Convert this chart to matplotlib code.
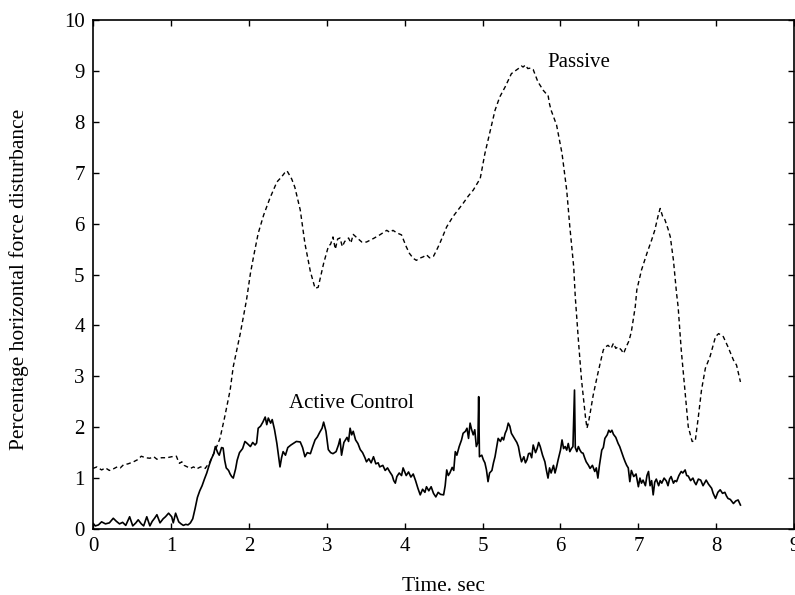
import matplotlib.pyplot as plt

# Active control trace (solid)
active_t = [0.00, 0.03, 0.07, 0.11, 0.16, 0.21, 0.26, 0.30, 0.34, 0.38, 0.42, 0.47, 0.51, 0.55, 0.58,
            0.62, 0.65, 0.69, 0.73, 0.76, 0.79, 0.82, 0.86, 0.90, 0.93, 0.97, 1.01, 1.03, 1.06, 1.10,
            1.13, 1.16, 1.19, 1.22, 1.25, 1.28, 1.31, 1.34, 1.37, 1.40, 1.43, 1.46, 1.49, 1.52, 1.55,
            1.57, 1.60, 1.62, 1.65, 1.67, 1.69, 1.71, 1.74, 1.76, 1.78, 1.80, 1.83, 1.85, 1.88, 1.92,
            1.95, 1.98, 2.02, 2.05, 2.08, 2.10, 2.12, 2.15, 2.18, 2.21, 2.23, 2.25, 2.28, 2.30, 2.33,
            2.36, 2.38, 2.40, 2.42, 2.44, 2.47, 2.50, 2.54, 2.57, 2.61, 2.66, 2.69, 2.72, 2.75, 2.79,
            2.82, 2.85, 2.88, 2.91, 2.94, 2.96, 2.99, 3.02, 3.05, 3.08, 3.12, 3.15, 3.17, 3.19, 3.22,
            3.26, 3.28, 3.30, 3.32, 3.34, 3.37, 3.40, 3.43, 3.46, 3.49, 3.51, 3.54, 3.57, 3.60, 3.63,
            3.66, 3.68, 3.72, 3.75, 3.78, 3.81, 3.84, 3.86, 3.88, 3.90, 3.93, 3.96, 3.98, 4.02, 4.05,
            4.08, 4.11, 4.14, 4.17, 4.20, 4.23, 4.26, 4.28, 4.31, 4.34, 4.37, 4.40, 4.43, 4.46, 4.50,
            4.52, 4.54, 4.56, 4.58, 4.61, 4.63, 4.65, 4.67, 4.70, 4.73, 4.75, 4.78, 4.80, 4.82, 4.84,
            4.86, 4.88, 4.90, 4.92, 4.94, 4.95, 4.96, 4.99, 5.01, 5.03, 5.05, 5.07, 5.09, 5.12, 5.14,
            5.16, 5.18, 5.20, 5.23, 5.25, 5.27, 5.29, 5.31, 5.33, 5.35, 5.37, 5.40, 5.42, 5.44, 5.46,
            5.48, 5.50, 5.53, 5.55, 5.57, 5.59, 5.61, 5.63, 5.65, 5.68, 5.70, 5.72, 5.74, 5.77, 5.80,
            5.82, 5.84, 5.86, 5.88, 5.91, 5.93, 5.95, 5.97, 6.00, 6.02, 6.04, 6.06, 6.08, 6.10, 6.12,
            6.14, 6.16, 6.18, 6.19, 6.21, 6.23, 6.25, 6.27, 6.29, 6.31, 6.33, 6.36, 6.38, 6.41, 6.44,
            6.46, 6.48, 6.50, 6.53, 6.55, 6.57, 6.60, 6.62, 6.64, 6.66, 6.68, 6.71, 6.74, 6.76, 6.78,
            6.81, 6.83, 6.85, 6.87, 6.89, 6.91, 6.94, 6.97, 7.00, 7.02, 7.04, 7.06, 7.09, 7.11, 7.13,
            7.15, 7.17, 7.19, 7.21, 7.23, 7.26, 7.28, 7.30, 7.33, 7.36, 7.38, 7.40, 7.42, 7.45, 7.47,
            7.49, 7.52, 7.55, 7.57, 7.60, 7.62, 7.64, 7.67, 7.70, 7.72, 7.74, 7.77, 7.80, 7.83, 7.87,
            7.90, 7.94, 7.96, 7.99, 8.02, 8.05, 8.08, 8.11, 8.13, 8.15, 8.18, 8.22, 8.25, 8.28, 8.30,
            8.31]
active_v = [0.11, 0.06, 0.08, 0.14, 0.10, 0.12, 0.21, 0.15, 0.10, 0.13, 0.07, 0.24, 0.06, 0.12, 0.18,
            0.10, 0.06, 0.24, 0.06, 0.15, 0.21, 0.28, 0.12, 0.20, 0.24, 0.31, 0.24, 0.12, 0.31, 0.14,
            0.10, 0.07, 0.09, 0.08, 0.12, 0.20, 0.40, 0.62, 0.75, 0.85, 0.98, 1.10, 1.25, 1.38, 1.48,
            1.62, 1.50, 1.45, 1.60, 1.59, 1.35, 1.20, 1.15, 1.08, 1.03, 1.00, 1.18, 1.35, 1.50, 1.58,
            1.72, 1.68, 1.62, 1.70, 1.65, 1.69, 1.98, 2.02, 2.10, 2.20, 2.05, 2.18, 2.08, 2.15, 1.95,
            1.68, 1.45, 1.22, 1.40, 1.52, 1.45, 1.60, 1.65, 1.68, 1.72, 1.71, 1.60, 1.42, 1.50, 1.48,
            1.62, 1.75, 1.81, 1.90, 1.98, 2.10, 1.92, 1.56, 1.50, 1.48, 1.52, 1.65, 1.77, 1.45, 1.70,
            1.80, 1.72, 1.98, 1.85, 1.92, 1.75, 1.68, 1.56, 1.50, 1.40, 1.32, 1.38, 1.30, 1.42, 1.28,
            1.30, 1.22, 1.25, 1.15, 1.20, 1.12, 1.05, 0.95, 0.90, 1.03, 1.10, 1.05, 1.20, 1.05, 1.12,
            1.02, 1.08, 0.95, 0.80, 0.67, 0.78, 0.72, 0.83, 0.75, 0.83, 0.70, 0.63, 0.72, 0.68, 0.67,
            0.85, 1.16, 1.05, 1.10, 1.21, 1.15, 1.52, 1.45, 1.62, 1.75, 1.88, 1.92, 1.98, 1.78, 2.08,
            1.95, 1.85, 1.95, 1.62, 1.70, 2.60, 1.42, 1.45, 1.36, 1.30, 1.16, 0.93, 1.10, 1.15, 1.30,
            1.42, 1.60, 1.78, 1.72, 1.80, 1.75, 1.88, 1.95, 2.08, 2.02, 1.88, 1.80, 1.75, 1.70, 1.62,
            1.45, 1.32, 1.42, 1.30, 1.36, 1.48, 1.49, 1.40, 1.65, 1.50, 1.58, 1.70, 1.62, 1.45, 1.32,
            1.15, 1.00, 1.20, 1.10, 1.25, 1.10, 1.22, 1.36, 1.55, 1.75, 1.58, 1.62, 1.55, 1.68, 1.52,
            1.58, 1.62, 2.73, 1.60, 1.52, 1.62, 1.55, 1.50, 1.49, 1.40, 1.32, 1.25, 1.19, 1.25, 1.13,
            1.20, 1.00, 1.25, 1.55, 1.60, 1.78, 1.85, 1.94, 1.90, 1.94, 1.86, 1.80, 1.68, 1.62, 1.53,
            1.40, 1.32, 1.25, 1.20, 0.93, 1.15, 1.03, 1.08, 0.83, 1.00, 0.90, 0.96, 0.85, 1.05, 1.13,
            0.85, 0.95, 0.67, 0.92, 0.98, 0.85, 0.95, 0.90, 1.00, 0.94, 0.85, 0.98, 1.03, 0.90, 0.95,
            0.93, 1.05, 1.13, 1.10, 1.16, 1.05, 1.04, 0.95, 1.00, 0.92, 0.87, 0.98, 0.96, 0.85, 0.96,
            0.88, 0.80, 0.70, 0.60, 0.72, 0.77, 0.70, 0.72, 0.65, 0.60, 0.58, 0.50, 0.55, 0.57, 0.50,
            0.47]

# Passive trace (dashed)
passive_t = [0.00, 0.05, 0.11, 0.16, 0.21, 0.26, 0.31, 0.35, 0.39, 0.45, 0.52, 0.57, 0.62, 0.67, 0.73,
             0.78, 0.82, 0.88, 0.95, 1.01, 1.07, 1.09, 1.11, 1.14, 1.17, 1.21, 1.25, 1.29, 1.33, 1.38,
             1.44, 1.50, 1.57, 1.63, 1.69, 1.76, 1.80, 1.89, 1.97, 2.02, 2.06, 2.12, 2.19, 2.27, 2.36,
             2.42, 2.46, 2.49, 2.55, 2.59, 2.66, 2.72, 2.79, 2.85, 2.89, 2.96, 3.02, 3.05, 3.08, 3.11,
             3.14, 3.17, 3.20, 3.23, 3.28, 3.31, 3.34, 3.39, 3.45, 3.51, 3.56, 3.60, 3.68, 3.77, 3.81,
             3.85, 3.90, 3.96, 4.02, 4.06, 4.11, 4.15, 4.19, 4.24, 4.28, 4.32, 4.37, 4.41, 4.45, 4.54,
             4.62, 4.70, 4.75, 4.82, 4.88, 4.97, 5.03, 5.10, 5.16, 5.22, 5.29, 5.37, 5.46, 5.50, 5.52,
             5.55, 5.58, 5.62, 5.65, 5.71, 5.78, 5.82, 5.84, 5.86, 5.88, 5.95, 6.02, 6.08, 6.12, 6.17,
             6.19, 6.23, 6.27, 6.32, 6.34, 6.36, 6.38, 6.42, 6.47, 6.51, 6.55, 6.58, 6.61, 6.65, 6.68,
             6.71, 6.74, 6.78, 6.81, 6.85, 6.88, 6.91, 6.96, 6.98, 7.04, 7.11, 7.17, 7.21, 7.26, 7.28,
             7.31, 7.34, 7.38, 7.41, 7.45, 7.49, 7.51, 7.55, 7.60, 7.64, 7.69, 7.73, 7.77, 7.81, 7.86,
             7.92, 7.99, 8.03, 8.09, 8.15, 8.22, 8.26, 8.31]
passive_v = [1.19, 1.22, 1.16, 1.20, 1.15, 1.18, 1.22, 1.20, 1.26, 1.28, 1.32, 1.36, 1.43, 1.40, 1.39,
             1.42, 1.37, 1.40, 1.40, 1.42, 1.43, 1.35, 1.29, 1.32, 1.25, 1.22, 1.19, 1.22, 1.18, 1.22,
             1.19, 1.32, 1.55, 1.78, 2.20, 2.73, 3.19, 3.84, 4.50, 5.02, 5.35, 5.81, 6.17, 6.50, 6.82,
             6.92, 7.00, 7.04, 6.88, 6.72, 6.27, 5.61, 5.06, 4.73, 4.75, 5.22, 5.55, 5.60, 5.74, 5.50,
             5.70, 5.72, 5.55, 5.65, 5.72, 5.62, 5.79, 5.72, 5.64, 5.64, 5.68, 5.71, 5.78, 5.87, 5.83,
             5.87, 5.82, 5.78, 5.55, 5.42, 5.32, 5.28, 5.32, 5.35, 5.39, 5.33, 5.36, 5.48, 5.61, 5.94,
             6.14, 6.30, 6.40, 6.55, 6.66, 6.89, 7.38, 7.84, 8.23, 8.49, 8.69, 8.95, 9.05, 9.10, 9.08,
             9.12, 9.05, 9.06, 9.03, 8.79, 8.62, 8.55, 8.53, 8.35, 8.23, 7.94, 7.38, 6.66, 5.94, 5.15,
             4.56, 3.71, 2.93, 2.21, 1.98, 2.10, 2.27, 2.63, 2.99, 3.26, 3.52, 3.58, 3.61, 3.55, 3.65,
             3.55, 3.58, 3.52, 3.45, 3.60, 3.70, 3.88, 4.37, 4.70, 5.09, 5.42, 5.68, 5.87, 6.20, 6.30,
             6.15, 6.08, 5.90, 5.74, 5.28, 4.63, 4.37, 3.52, 2.67, 2.01, 1.72, 1.73, 2.21, 2.73, 3.16,
             3.39, 3.78, 3.84, 3.78, 3.58, 3.32, 3.22, 2.89]

x_ticks = list(range(0, 10))
y_ticks = list(range(0, 11))

plt.rcParams['font.family'] = ['Liberation Serif', 'DejaVu Serif']

fig = plt.figure(figsize=(7.95, 5.95), dpi=100)
ax = fig.add_axes([0.117, 0.111, 0.882, 0.855])

ax.plot(passive_t, passive_v, color='black', lw=1.0, linestyle=(0, (3.2, 2.3)))
ax.plot(active_t, active_v, color='black', lw=1.2)

ax.set_xlim(0, 9)
ax.set_ylim(0, 10)
ax.set_xticks(x_ticks)
ax.set_yticks(y_ticks)
ax.tick_params(direction='in', top=True, right=True, length=4, width=1,
               labelsize=15, pad=6)
for s in ax.spines.values():
    s.set_linewidth(1.2)

ax.set_xlabel('Time. sec', fontsize=15.5)
ax.set_ylabel('Percentage horizontal force disturbance', fontsize=15.5)
ax.xaxis.label.set_va('baseline')
ax.xaxis.set_label_coords(0.5, -0.122)
ax.yaxis.label.set_va('center')
ax.yaxis.set_label_coords(-0.106, 0.491)

ax.text(5.83, 9.08, 'Passive', fontsize=15, va='baseline')
ax.text(2.52, 2.37, 'Active Control', fontsize=15, va='baseline')

fig.savefig('out.png', dpi=100)
